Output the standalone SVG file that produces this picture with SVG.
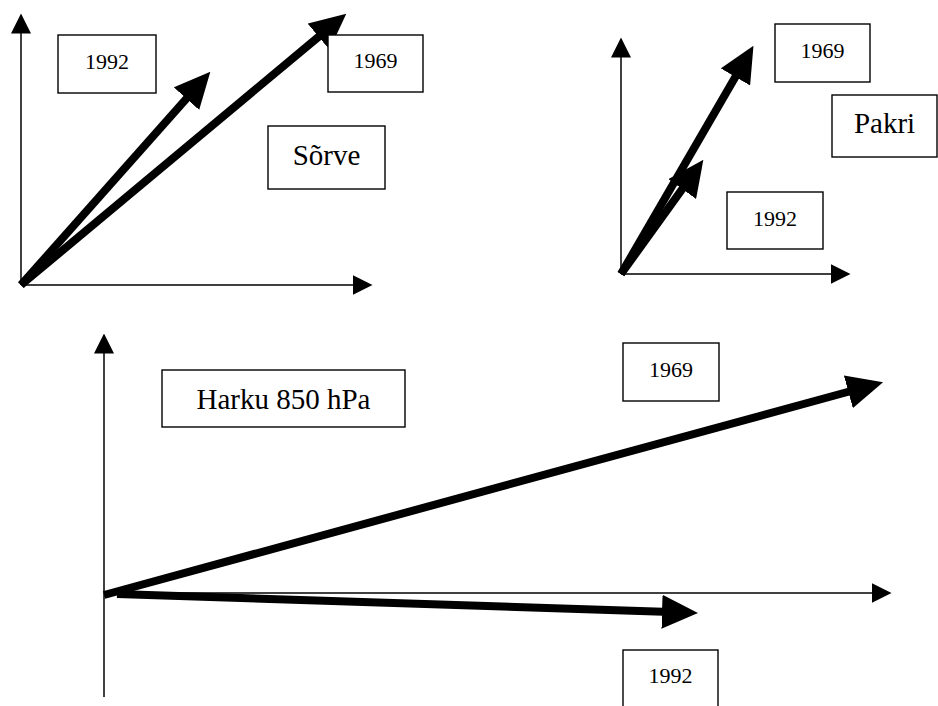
<svg xmlns="http://www.w3.org/2000/svg" width="938" height="706" viewBox="0 0 938 706">
  <style>
    .axis { stroke: #000; stroke-width: 1.5; fill: none; marker-end: url(#axisHead); }
    .vec { stroke: #000; stroke-width: 8; fill: none; stroke-linecap: butt; marker-end: url(#vecHead); }
    .box { fill: #fff; stroke: #000; stroke-width: 1.4; }
    text { font-family: 'Liberation Serif', 'DejaVu Serif', serif; text-anchor: middle; fill: #000; }
    .year { font-size: 22px; }
    .station { font-size: 29px; }
  </style>
  <defs>
    <marker id="axisHead" markerUnits="userSpaceOnUse" viewBox="0 0 20 20" markerWidth="20" markerHeight="20" refX="0.5" refY="10" orient="auto">
      <path d="M0,0 L20,10 L0,20 Z" fill="#000"/>
    </marker>
    <marker id="vecHead" markerUnits="userSpaceOnUse" viewBox="0 0 36 34" markerWidth="36" markerHeight="34" refX="1" refY="17" orient="auto">
      <path d="M0,0 L36,17 L0,34 Z" fill="#000"/>
    </marker>
  </defs>

  <g id="connectors">
    <!-- Sõrve axes and wind vectors -->
    <line class="axis" x1="21" y1="285" x2="21" y2="33"/>
    <line class="axis" x1="21" y1="285" x2="353" y2="285"/>
    <line class="vec" x1="21" y1="285" x2="187.1" y2="97.9"/>
    <line class="vec" x1="21" y1="285" x2="319.4" y2="36.1"/>

    <!-- Pakri axes and wind vectors -->
    <line class="axis" x1="621" y1="274" x2="621" y2="57"/>
    <line class="axis" x1="621" y1="274" x2="831" y2="274"/>
    <line class="vec" x1="621" y1="274" x2="735.9" y2="76.1"/>
    <line class="vec" x1="621" y1="274" x2="682.9" y2="188.2"/>

    <!-- Harku 850 hPa axes and wind vectors -->
    <line class="axis" x1="104" y1="697" x2="104" y2="353"/>
    <line class="axis" x1="104" y1="593" x2="872" y2="593"/>
    <line class="vec" x1="104" y1="595" x2="849.3" y2="391.5"/>
    <line class="vec" x1="117" y1="594" x2="663" y2="611.8"/>
  </g>

  <g id="sorve-1992">
    <rect class="box" x="58" y="35" width="98" height="58"/>
    <text class="year" x="107" y="69" font-family="Liberation Serif, serif">1992</text>
  </g>
  <g id="sorve-1969">
    <rect class="box" x="328" y="35" width="95" height="57"/>
    <text class="year" x="375.5" y="68">1969</text>
  </g>
  <g id="sorve-label">
    <rect class="box" x="268" y="126" width="117" height="63"/>
    <text class="station" x="326.5" y="165">Sõrve</text>
  </g>

  <g id="pakri-1969">
    <rect class="box" x="775" y="24" width="95" height="58"/>
    <text class="year" x="822.5" y="58">1969</text>
  </g>
  <g id="pakri-label">
    <rect class="box" x="832" y="95" width="105" height="62"/>
    <text class="station" x="884.5" y="133">Pakri</text>
  </g>
  <g id="pakri-1992">
    <rect class="box" x="727" y="192" width="96" height="57"/>
    <text class="year" x="775" y="226">1992</text>
  </g>

  <g id="harku-label">
    <rect class="box" x="162" y="370" width="243" height="57"/>
    <text class="station" x="283.5" y="409">Harku 850 hPa</text>
  </g>
  <g id="harku-1969">
    <rect class="box" x="623" y="343" width="96" height="58"/>
    <text class="year" x="671" y="377">1969</text>
  </g>
  <g id="harku-1992">
    <rect class="box" x="623" y="650" width="95" height="70"/>
    <text class="year" x="670.5" y="683">1992</text>
  </g>
</svg>
